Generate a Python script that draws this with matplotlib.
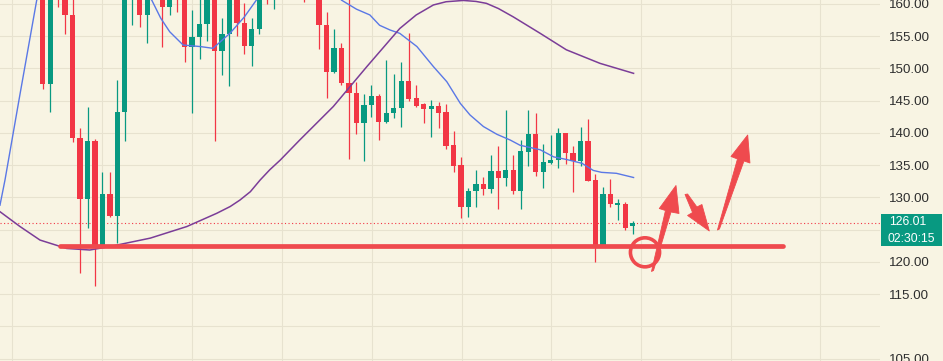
import matplotlib
matplotlib.use("Agg")
import matplotlib.pyplot as plt
from matplotlib.patches import Polygon, Ellipse, Rectangle
from matplotlib import font_manager
import numpy as np

# ---------------- data (candles) ----------------
opens = [165.0, 147.55, 163.0, 163.0, 158.35, 139.28, 129.77, 138.76, 122.6, 130.54,
         127.18, 143.2, 161.2, 162.5, 158.35, 162.0, 164.0, 159.5, 163.0, 161.5,
         153.38, 154.83, 156.9, 161.0, 152.76, 155.35, 161.0, 157.0, 153.5, 156.2,
         162.5, 161.2, 163.5, 165.0, 164.0, 163.0, 161.5, 163.0, 156.74, 149.4,
         153.13, 147.8, 146.15, 141.5, 144.3, 145.8, 141.66, 143.05, 143.83, 148.1,
         145.38, 144.5, 143.72, 144.19, 143.2, 138.14, 135.04, 128.48, 131.05, 132.1,
         131.32, 134.1, 133.07, 134.26, 131.05, 137.1, 139.8, 134.0, 135.4, 135.76,
         139.95, 136.85, 135.66, 138.76, 132.7, 122.64, 130.54, 128.9, 128.99, 125.6]
highs = [166.0, 163.0, 164.0, 164.5, 161.5, 140.82, 143.98, 139.0, 134.0, 133.9,
         148.2, 163.0, 163.5, 164.0, 163.0, 166.0, 165.0, 163.0, 164.0, 162.5,
         159.07, 161.0, 162.0, 162.0, 157.9, 162.0, 162.0, 160.1, 157.8, 162.5,
         164.0, 164.5, 166.0, 167.0, 165.5, 164.0, 164.0, 164.0, 158.8, 156.2,
         154.0, 161.5, 147.96, 146.0, 147.44, 146.0, 151.3, 149.15, 151.06, 155.56,
         147.44, 144.6, 145.1, 144.76, 144.5, 140.31, 136.33, 131.52, 134.26, 133.2,
         136.6, 138.03, 143.57, 136.6, 138.9, 143.57, 143.05, 138.24, 139.7, 140.73,
         140.0, 137.98, 140.99, 142.17, 133.64, 131.7, 132.82, 129.77, 129.25, 126.36]
lows = [146.8, 143.3, 159.6, 155.3, 138.65, 118.35, 125.32, 116.3, 122.5, 127.0,
        122.99, 138.8, 156.7, 156.5, 154.0, 161.0, 153.4, 158.3, 158.7, 151.05,
        143.15, 151.47, 154.3, 138.8, 149.0, 147.3, 155.04, 152.2, 150.4, 155.35,
        160.0, 159.2, 162.5, 163.0, 162.0, 160.3, 161.0, 153.1, 145.5, 149.3,
        147.44, 135.9, 139.8, 135.66, 142.5, 138.9, 141.6, 142.3, 140.9, 144.96,
        144.1, 141.6, 139.4, 140.8, 137.47, 134.0, 126.87, 127.0, 128.48, 130.4,
        130.65, 128.22, 131.83, 130.5, 128.2, 134.94, 133.38, 131.52, 135.15, 134.5,
        135.15, 130.9, 134.88, 132.6, 120.05, 122.6, 128.48, 126.5, 124.96, 124.3]
closes = [147.55, 162.0, 161.5, 158.35, 139.18, 129.77, 138.76, 122.6, 130.54, 127.18,
          143.2, 162.0, 162.5, 158.35, 162.0, 164.0, 159.5, 162.0, 161.5, 153.38,
          154.83, 156.9, 161.0, 152.76, 155.35, 161.0, 157.1, 153.5, 156.2, 161.5,
          161.2, 163.5, 165.0, 164.0, 163.0, 161.5, 163.0, 156.74, 149.4, 153.13,
          147.8, 146.15, 141.5, 144.3, 145.8, 141.66, 143.05, 143.8, 148.1, 145.27,
          144.2, 143.72, 144.19, 143.15, 138.03, 134.94, 128.6, 131.05, 132.1, 131.32,
          134.1, 133.07, 134.26, 131.05, 137.26, 139.8, 134.0, 135.45, 135.76, 139.95,
          136.85, 135.66, 138.76, 132.6, 122.64, 130.54, 128.99, 129.05, 125.32, 126.01]

# moving averages (bar index, price)
ma_fast_x = [-5.72, -5.05, -3.04, -0.8, 2.0, 8.0, 12.0, 13.7, 14.6, 15.8, 17.0, 18.8, 21.1,
             22.8, 25.1, 27.0, 28.6, 30.5, 35.0, 39.0, 40.0, 42.0, 43.8, 45.1, 46.5, 47.8,
             50.1, 52.3, 54.1, 55.9, 57.2, 59.0, 60.8, 62.6, 63.9, 66.6, 68.4, 70.1,
             72.2, 73.7, 74.8, 76.8, 79.1]
ma_fast_y = [128.8, 132.7, 146.0, 160.6, 165.0, 167.0, 164.0, 161.5, 160.6, 157.8, 155.7, 153.64, 153.4,
             153.13, 155.5, 158.0, 160.6, 163.0, 164.0, 162.0, 160.6, 159.2, 158.3, 156.7, 155.97, 155.45,
             153.4, 150.3, 147.95, 144.6, 142.8, 141.0, 139.8, 138.9, 138.1, 137.4, 136.3, 135.9,
             135.3, 134.2, 133.9, 133.75, 133.1]
ma_slow_x = [-5.72, -3.04, -0.36, 3.2, 6.3, 9.0, 14.4, 19.3, 23.3, 25.1, 26.4, 27.8, 29.1,
             30.4, 31.8, 34.4, 38.9, 43.4, 47.8, 50.0, 52.3, 54.0, 56.3, 58.0, 59.4, 61.0,
             63.0, 66.6, 70.1, 74.6, 79.1]
ma_slow_y = [127.8, 125.5, 123.4, 122.1, 121.86, 122.4, 123.7, 125.5, 127.55, 128.6, 129.6, 130.9, 132.7,
             134.3, 135.8, 138.9, 144.1, 150.3, 156.2, 158.3, 159.85, 160.35, 160.55, 160.4, 160.1, 159.3,
             158.0, 155.45, 152.9, 150.8, 149.25]

last_price = 126.01
countdown = "02:30:15"
price_ticks = [105, 115, 120, 130, 135, 140, 145, 150, 155, 160]
grid_prices = [105, 110, 115, 120, 125, 130, 135, 140, 145, 150, 155, 160]
grid_bars = [-4.1, 7.95, 20.0, 32.0, 44.1, 56.1, 68.0, 80.1, 92.1, 104.1]

# hand-drawn annotation (bar index, price)
support_level = 122.45
support_span = (2.3, 99.1)
circle_center = (80.63, 121.5)
arrows = [
    [(81.50, 118.53), (81.77, 118.68), (84.11, 127.75), (85.18, 127.52),
     (84.78, 131.86), (82.54, 128.29), (83.37, 127.98)],
    [(85.99, 130.47), (86.33, 130.54), (87.58, 128.53), (88.25, 128.91),
     (89.24, 124.81), (86.33, 127.21), (87.0, 127.67)],
    [(90.33, 124.96), (90.60, 125.12), (93.88, 135.66), (94.68, 135.35),
     (94.38, 139.69), (92.14, 136.36), (93.01, 135.97)],
]

# ---------------- style ----------------
BG = "#F8F4E3"
GRID = "#E7E2CF"
UP = "#089981"
DOWN = "#F23645"
DRAW = "#EF4A4E"

names = {f.name for f in font_manager.fontManager.ttflist}
if "Liberation Sans Narrow" in names:
    FONT, FS, FS2 = "Liberation Sans Narrow", 10.6, 9.8
else:
    FONT, FS, FS2 = "Liberation Sans", 9.6, 8.8

W, H = 943, 361
fig = plt.figure(figsize=(W / 100, H / 100), dpi=100)
fig.patch.set_facecolor(BG)
ax = fig.add_axes([0, 0, 880 / W, 1])
ax.set_facecolor(BG)
for s in ax.spines.values():
    s.set_visible(False)

ax.set_xlim(-5.716, 112.09)
ax.set_ylim(104.65, 160.62)

for g in grid_prices:
    ax.axhline(g, color=GRID, lw=0.8, zorder=0)
for g in grid_bars:
    ax.axvline(g, color=GRID, lw=0.8, zorder=0)

idx = np.arange(len(opens))
o = np.array(opens); c = np.array(closes); hi = np.array(highs); lo = np.array(lows)
cols = [UP if cc >= oo else DOWN for oo, cc in zip(o, c)]
ax.vlines(idx, lo, hi, colors=cols, lw=0.9, zorder=2)
body_h = np.maximum(np.abs(c - o), 0.18)
ax.bar(idx, body_h, bottom=np.minimum(o, c), width=0.7, color=cols, linewidth=0, zorder=3)

ax.plot(ma_fast_x, ma_fast_y, color="#5A78E6", lw=1.0, zorder=4)
ax.plot(ma_slow_x, ma_slow_y, color="#7B3D98", lw=1.1, zorder=4)

ax.axhline(last_price, color=DOWN, lw=0.8, linestyle=(0, (1, 2.2)), zorder=1)

# annotation drawing
ax.plot(list(support_span), [support_level, support_level], color=DRAW, lw=3.4,
        solid_capstyle="round", zorder=6)
ax.add_patch(Ellipse(circle_center, width=3.9, height=4.5, fill=False,
                     edgecolor=DRAW, lw=2.6, zorder=7))
for pts in arrows:
    ax.add_patch(Polygon(pts, closed=True, facecolor=DRAW, edgecolor=DRAW,
                         lw=0.6, joinstyle="round", zorder=7))

# price scale
ax.set_xticks([])
ax.yaxis.tick_right()
ax.set_yticks(price_ticks)
ax.set_yticklabels([f"{t:.2f}" for t in price_ticks])
ax.tick_params(axis="y", length=0, pad=6.5, labelsize=FS, labelcolor="#2E2E2E")
for lab in ax.get_yticklabels():
    lab.set_fontfamily(FONT)

# last price label
fig.patches.append(Rectangle((881 / W, (H - 246) / H), 61 / W, 32 / H,
                             transform=fig.transFigure, facecolor=UP,
                             edgecolor="none", zorder=10))
fig.text(889 / W, (H - 222) / H, f"{last_price:.2f}", color="white", fontsize=FS2,
         family=FONT, va="center", ha="left", zorder=11)
fig.text(888 / W, (H - 238.5) / H, countdown, color="white", fontsize=FS2,
         family=FONT, va="center", ha="left", zorder=11)

fig.savefig("out.png", dpi=100, facecolor=BG)
